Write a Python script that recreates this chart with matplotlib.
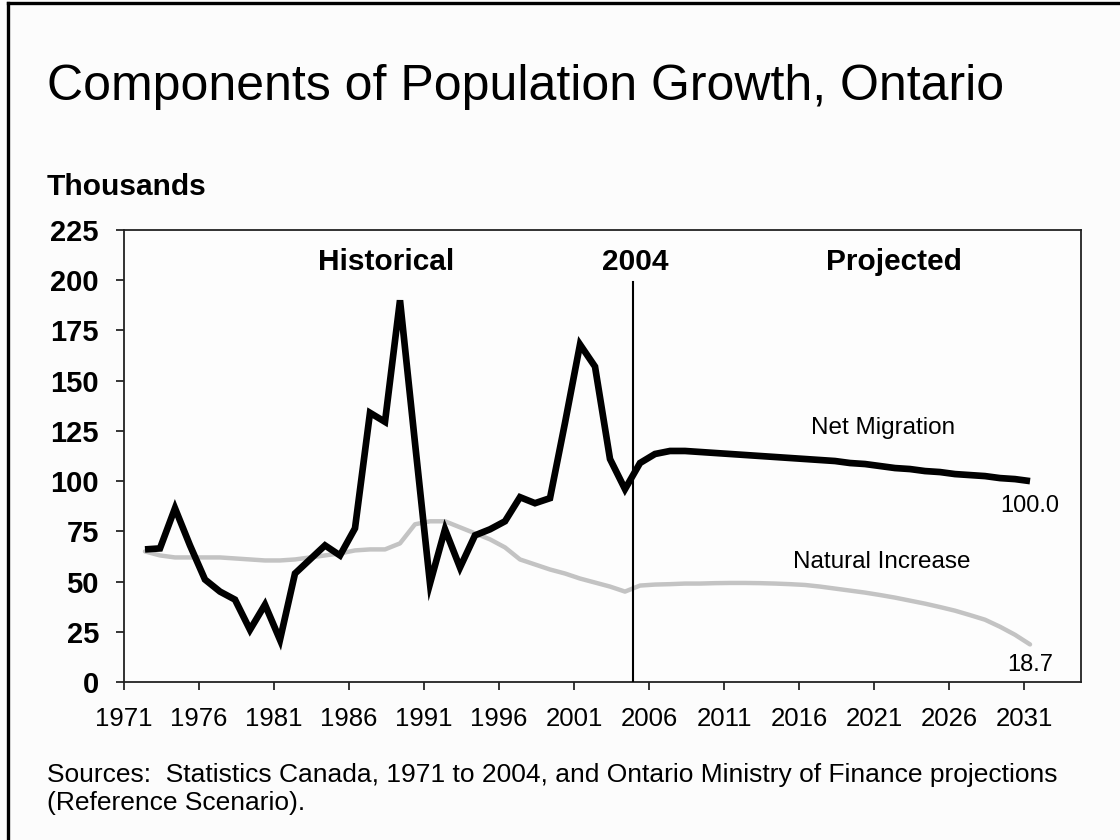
import matplotlib.pyplot as plt
from matplotlib.lines import Line2D

# Each value belongs to a July-June period, keyed by its starting year
hist_years = list(range(1971, 2004))
proj_years = list(range(2004, 2031))

net_migration_hist = [66, 66.5, 86.5, 68, 51, 45, 41, 26, 38.5, 21,
                      54, 61, 68, 63, 76.5, 134, 129.5, 190, 119, 49,
                      76, 57, 73, 76, 80, 92, 89, 91.5, 129, 168,
                      157, 111, 96]
net_migration_proj = [109, 113.5, 115, 115, 114.5, 114, 113.5, 113, 112.5, 112,
                      111.5, 111, 110.5, 110, 109, 108.5, 107.5, 106.5, 106, 105,
                      104.5, 103.5, 103, 102.5, 101.5, 101, 100.0]

natural_hist = [65, 63, 62, 62, 62, 62, 61.5, 61, 60.5, 60.5,
                61, 62, 63, 64, 65.5, 66, 66, 69, 78.5, 80,
                80, 77, 74, 71, 67, 61, 58.5, 56, 54, 51.5,
                49.5, 47.5, 45]
natural_proj = [48, 48.5, 48.7, 49, 49, 49.2, 49.3, 49.3, 49.2, 49,
                48.7, 48.3, 47.5, 46.5, 45.5, 44.5, 43.3, 42, 40.5, 39,
                37.3, 35.5, 33.3, 31, 27.5, 23.5, 18.7]

tick_labels = list(range(1971, 2032, 5))
y_ticks = list(range(0, 226, 25))

years = hist_years + proj_years
net_migration = net_migration_hist + net_migration_proj
natural = natural_hist + natural_proj

plt.rcParams['font.family'] = ['Liberation Sans', 'DejaVu Sans']

fig = plt.figure(figsize=(11.2, 8.4), dpi=100, facecolor='#fcfcfc')
ax = fig.add_axes([0.1107, 0.1881, 0.8545, 0.5381])
ax.set_facecolor('#fdfdfd')

# natural increase underneath, net migration on top
ax.plot(years, natural, color='#c3c3c3', lw=3.2, solid_capstyle='round', zorder=2)
ax.plot(years, net_migration, color='black', lw=4.8, solid_joinstyle='miter',
        solid_capstyle='butt', zorder=3)

# boundary between historical and projected periods
split_x = (hist_years[-1] + proj_years[0]) / 2
ax.plot([split_x, split_x], [0, 199], color='black', lw=1.5, zorder=4)

ax.set_xlim(1969.6, 2033.4)
ax.set_ylim(0, 225)

# the axis labels sit 1.4 years left of the period start years
ax.set_xticks([y - 1.4 for y in tick_labels])
ax.set_xticklabels([str(y) for y in tick_labels], fontsize=18.5)
ax.set_yticks(y_ticks)
ax.set_yticklabels([str(v) for v in y_ticks], fontsize=21, fontweight='bold')
ax.tick_params(axis='x', direction='out', length=6, width=1.1, pad=12, colors='black')
ax.tick_params(axis='y', direction='out', length=6, width=1.1, pad=12, colors='black')
for s in ax.spines.values():
    s.set_linewidth(1.3)
    s.set_color('#222222')

ax.text(1987.1, 209, 'Historical', ha='center', va='center', fontsize=21.5, fontweight='bold')
ax.text(split_x + 0.15, 209, '2004', ha='center', va='center', fontsize=21.5, fontweight='bold')
ax.text(2020.9, 209, 'Projected', ha='center', va='center', fontsize=21.5, fontweight='bold')
ax.text(2020.2, 126.5, 'Net Migration', ha='center', va='center', fontsize=17.5)
ax.text(2020.1, 59.8, 'Natural Increase', ha='center', va='center', fontsize=17.5)

ax.annotate(f'{net_migration[-1]:.1f}', (years[-1], net_migration[-1]), xytext=(0, -18),
            textcoords='offset points', ha='center', va='center', fontsize=17)
ax.annotate(f'{natural[-1]:.1f}', (years[-1], natural[-1]), xytext=(0, -15),
            textcoords='offset points', ha='center', va='center', fontsize=17)

fig.text(0.042, 0.881, 'Components of Population Growth, Ontario', fontsize=36,
         ha='left', va='baseline')
fig.text(0.042, 0.768, 'Thousands', fontsize=21.5, fontweight='bold', ha='left', va='baseline')
fig.text(0.042, 0.077, 'Sources:  Statistics Canada, 1971 to 2004, and Ontario Ministry of Finance projections',
         fontsize=19, ha='left', va='center')
fig.text(0.042, 0.044, '(Reference Scenario).', fontsize=19, ha='left', va='center')

# frame along the left and top edges
fig.add_artist(Line2D([0.0068, 0.0068], [0, 0.9965], transform=fig.transFigure, color='black', lw=2.4))
fig.add_artist(Line2D([0.0068, 1], [0.9965, 0.9965], transform=fig.transFigure, color='black', lw=2.4))

fig.savefig('out.png', dpi=100, facecolor=fig.get_facecolor())
